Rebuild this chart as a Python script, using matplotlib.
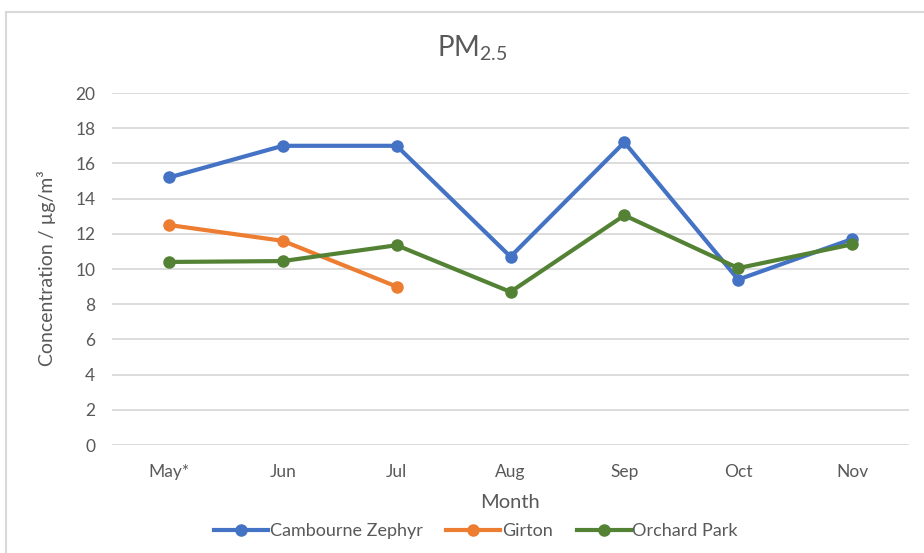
import matplotlib
matplotlib.use("Agg")
import matplotlib.pyplot as plt
from matplotlib.patches import Rectangle

plt.rcParams['font.family'] = ['Lato', 'DejaVu Sans']
plt.rcParams['mathtext.fontset'] = 'custom'
plt.rcParams['mathtext.rm'] = 'Lato'
plt.rcParams['mathtext.it'] = 'Lato'

months = ["May*", "Jun", "Jul", "Aug", "Sep", "Oct", "Nov"]
cambourne = [15.2, 17.0, 17.0, 10.7, 17.2, 9.4, 11.7]
girton_months = ["May*", "Jun", "Jul"]
girton = [12.5, 11.6, 9.0]
orchard = [10.4, 10.45, 11.35, 8.7, 13.05, 10.05, 11.4]

blue = "#4472C4"
orange = "#ED7D31"
green = "#548235"
grey = "#595959"

fig = plt.figure(figsize=(9.24, 5.53), dpi=100)
fig.patches.append(Rectangle((6/924, -0.05), 1.0, 1 - 12/553 + 0.05, transform=fig.transFigure,
                             fill=False, edgecolor="#d9d9d9", linewidth=1.5))
ax = fig.add_axes([112/924, 1 - 445/553, (909 - 112)/924, (445 - 93)/553])

x = list(range(len(months)))
xg = [months.index(m) for m in girton_months]
lw = 3.0
ms = 8
ax.plot(x, cambourne, color=blue, lw=lw, marker='o', ms=ms, label="Cambourne Zephyr", zorder=3)
ax.plot(xg, girton, color=orange, lw=lw, marker='o', ms=ms, label="Girton", zorder=3)
ax.plot(x, orchard, color=green, lw=lw, marker='o', ms=ms, label="Orchard Park", zorder=4)

ax.set_xlim(-0.5, len(months) - 0.5)
ax.set_ylim(0, 20)
ax.set_yticks(range(0, 21, 2))
ax.set_xticks(x)
ax.set_xticklabels(months)
ax.grid(axis='y', color="#d9d9d9", lw=1.3)
ax.set_axisbelow(True)
for s in ax.spines.values():
    s.set_visible(False)
ax.tick_params(axis='both', length=0, colors=grey, labelsize=12.5)
ax.tick_params(axis='y', pad=12)
ax.tick_params(axis='x', pad=14)

ax.set_xlabel("Month", fontsize=14.5, color=grey, labelpad=10)
fig.text(47/924, 1 - 268/553, "Concentration / µg/m³", rotation=90, ha='center', va='center',
         fontsize=14, color=grey)
fig.text(472/924, 1 - 48/553, r"PM$_{\mathrm{2.5}}$", ha='center', va='center', fontsize=20, color=grey)

leg = fig.legend(loc='center', bbox_to_anchor=(476/924, 1 - 531/553), ncol=3, frameon=False,
                 fontsize=13, handlelength=3.0, handletextpad=0.1, columnspacing=1.3)
for t in leg.get_texts():
    t.set_color(grey)

fig.savefig("out.png", dpi=100)
